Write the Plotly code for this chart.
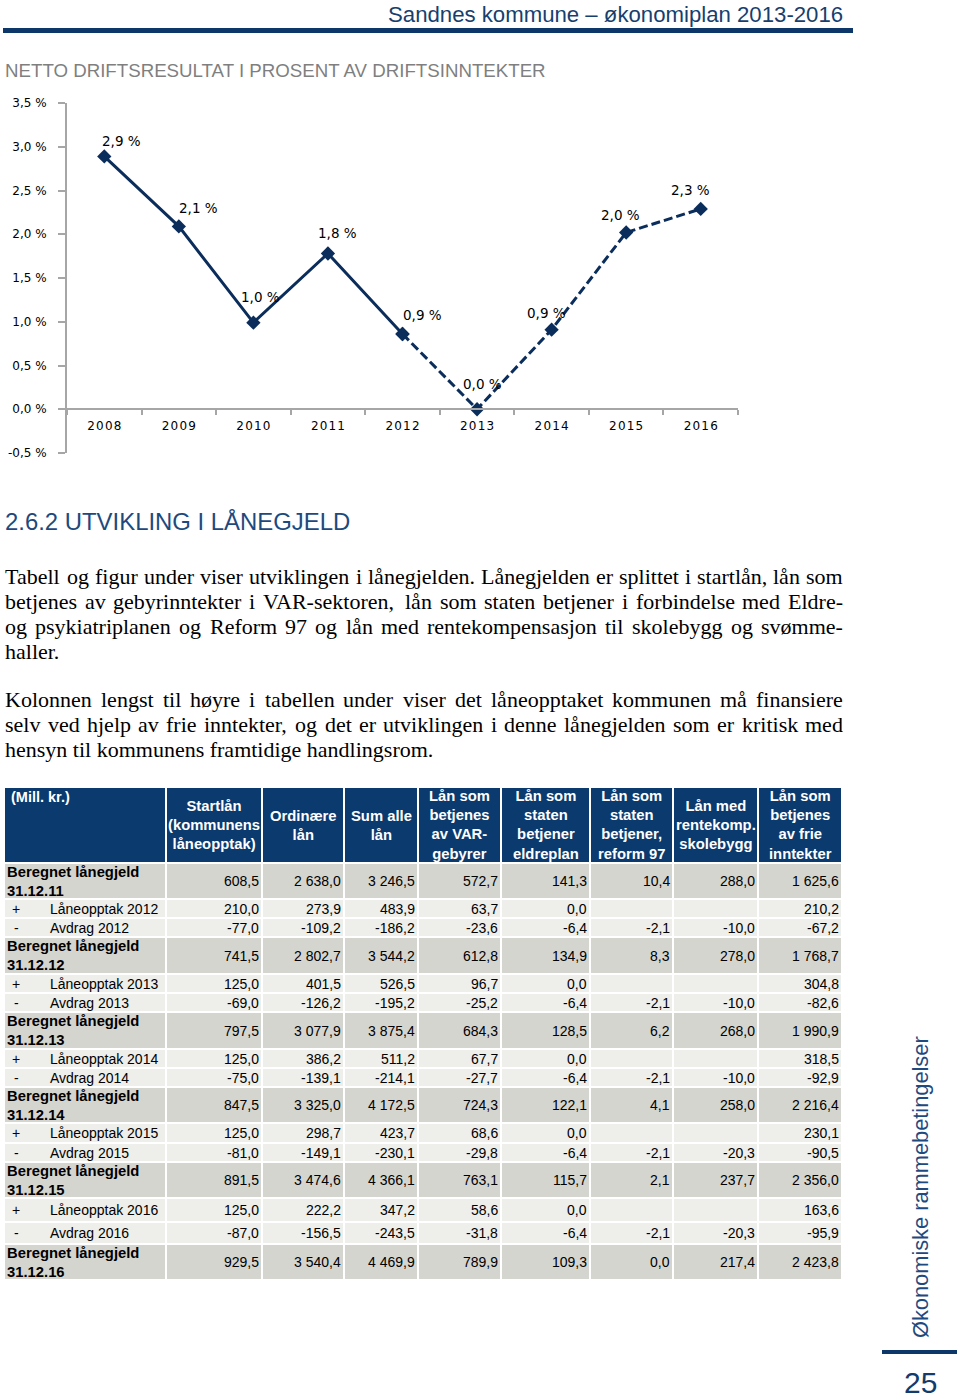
import plotly.graph_objects as go

# ---------------- data ----------------
years = ["2008", "2009", "2010", "2011", "2012", "2013", "2014", "2015", "2016"]
netto_pct = [2.89, 2.09, 0.99, 1.78, 0.86, 0.0, 0.91, 2.02, 2.29]
n_actual = 5          # 2008-2012 regnskap (solid), 2012-2016 plan (dashed)
y_tick_vals = [3.5, 3.0, 2.5, 2.0, 1.5, 1.0, 0.5, 0.0, -0.5]

table_corner = "(Mill. kr.)"
table_columns = [
    "Startlån<br>(kommunens<br>låneopptak)",
    "Ordinære<br>lån",
    "Sum alle<br>lån",
    "Lån som<br>betjenes<br>av VAR-<br>gebyrer",
    "Lån som<br>staten<br>betjener<br>eldreplan",
    "Lån som<br>staten<br>betjener,<br>reform 97",
    "Lån med<br>rentekomp.<br>skolebygg",
    "Lån som<br>betjenes<br>av frie<br>inntekter",
]
row_sign = ["", "+", "-", "", "+", "-", "", "+", "-", "", "+", "-", "", "+", "-", ""]
row_label = [
    "Beregnet lånegjeld<br>31.12.11", "Låneopptak 2012", "Avdrag 2012",
    "Beregnet lånegjeld<br>31.12.12", "Låneopptak 2013", "Avdrag 2013",
    "Beregnet lånegjeld<br>31.12.13", "Låneopptak 2014", "Avdrag 2014",
    "Beregnet lånegjeld<br>31.12.14", "Låneopptak 2015", "Avdrag 2015",
    "Beregnet lånegjeld<br>31.12.15", "Låneopptak 2016", "Avdrag 2016",
    "Beregnet lånegjeld<br>31.12.16",
]
startlan = [608.5, 210.0, -77.0, 741.5, 125.0, -69.0, 797.5, 125.0, -75.0, 847.5, 125.0, -81.0, 891.5, 125.0, -87.0, 929.5]
ordinaere = [2638.0, 273.9, -109.2, 2802.7, 401.5, -126.2, 3077.9, 386.2, -139.1, 3325.0, 298.7, -149.1, 3474.6, 222.2, -156.5, 3540.4]
sum_alle = [3246.5, 483.9, -186.2, 3544.2, 526.5, -195.2, 3875.4, 511.2, -214.1, 4172.5, 423.7, -230.1, 4366.1, 347.2, -243.5, 4469.9]
var_gebyr = [572.7, 63.7, -23.6, 612.8, 96.7, -25.2, 684.3, 67.7, -27.7, 724.3, 68.6, -29.8, 763.1, 58.6, -31.8, 789.9]
eldreplan = [141.3, 0.0, -6.4, 134.9, 0.0, -6.4, 128.5, 0.0, -6.4, 122.1, 0.0, -6.4, 115.7, 0.0, -6.4, 109.3]
reform97 = [10.4, None, -2.1, 8.3, None, -2.1, 6.2, None, -2.1, 4.1, None, -2.1, 2.1, None, -2.1, 0.0]
rentekomp = [288.0, None, -10.0, 278.0, None, -10.0, 268.0, None, -10.0, 258.0, None, -20.3, 237.7, None, -20.3, 217.4]
frie = [1625.6, 210.2, -67.2, 1768.7, 304.8, -82.6, 1990.9, 318.5, -92.9, 2216.4, 230.1, -90.5, 2356.0, 163.6, -95.9, 2423.8]
table_values = [startlan, ordinaere, sum_alle, var_gebyr, eldreplan, reform97, rentekomp, frie]

page_header = "Sandnes kommune – økonomiplan 2013-2016"
chart_title = "NETTO DRIFTSRESULTAT I PROSENT AV DRIFTSINNTEKTER"
section_title = "2.6.2 UTVIKLING I LÅNEGJELD"
paragraph1 = [
    "Tabell og figur under viser utviklingen i lånegjelden. Lånegjelden er splittet i startlån, lån som",
    "betjenes av gebyrinntekter i VAR-sektoren, lån som staten betjener i forbindelse med Eldre-",
    "og psykiatriplanen og Reform 97 og lån med rentekompensasjon til skolebygg og svømme-",
    "haller.",
]
paragraph2 = [
    "Kolonnen lengst til høyre i tabellen under viser det låneopptaket kommunen må finansiere",
    "selv ved hjelp av frie inntekter, og det er utviklingen i denne lånegjelden som er kritisk med",
    "hensyn til kommunens framtidige handlingsrom.",
]
side_text = "Økonomiske rammebetingelser"
page_number = "25"

# ---------------- style / layout ----------------
W, H = 960, 1400
NAVY = "#0c3768"
LINE = "#0b2d5b"
HEAD_FILL = "#0a3a6e"
TITLE_BLUE = "#1d4a7e"
AXIS_GREY = "#a6a6a6"
FILL_SUM = "#d5d5d0"
FILL_LIGHT = "#eeeeea"
SANS = "Liberation Sans, Arial, sans-serif"
SERIF = "Liberation Serif, Times New Roman, serif"
VERD = "DejaVu Sans, Verdana, sans-serif"


def dec(v):
    s = f"{abs(v):,.1f}".replace(",", " ").replace(".", ",")
    return ("-" if v < 0 else "") + s


def pct(v):
    return f"{v:.1f}".replace(".", ",") + " %"


fig = go.Figure()
anns = []
shapes = []


def ann(x, y, text, size, color="black", family=SANS, xanchor="left", yanchor="middle",
        align="left", textangle=0):
    anns.append(dict(x=x, y=y, xref="x2", yref="y2", text=text, showarrow=False,
                     xanchor=xanchor, yanchor=yanchor, align=align, textangle=textangle,
                     borderpad=0, borderwidth=0,
                     font=dict(family=family, size=size, color=color)))


def rect(x0, y0, x1, y1, color):
    shapes.append(dict(type="rect", xref="x2", yref="y2", x0=x0, x1=x1, y0=y0, y1=y1,
                       fillcolor=color, line=dict(width=0), layer="below"))


# ---- line chart (its own axes) ----
cx0, cx1, cy0, cy1 = 67, 738, 103, 453
ymin, ymax = -0.5, 3.5
ydom = [1 - cy1 / H, 1 - cy0 / H]
xaxis_pos = ydom[0] + (0 - ymin) / (ymax - ymin) * (ydom[1] - ydom[0])

fig.add_trace(go.Scatter(x=years[:n_actual], y=netto_pct[:n_actual], mode="lines+markers",
                         line=dict(color=LINE, width=3),
                         marker=dict(symbol="diamond", size=11, color=LINE),
                         showlegend=False, hoverinfo="skip"))
fig.add_trace(go.Scatter(x=years[n_actual - 1:], y=netto_pct[n_actual - 1:], mode="lines+markers",
                         line=dict(color=LINE, width=3, dash="9px,4px"),
                         marker=dict(symbol="diamond", size=11, color=LINE),
                         showlegend=False, hoverinfo="skip"))

label_dx = [17, 20, 7, 10, 20, 5, -5, -6, -10]
label_dy = [15, 18, 26, 21, 19, 25, 17, 18, 19]
for i, (v, dx, dy) in enumerate(zip(netto_pct, label_dx, label_dy)):
    anns.append(dict(x=i, y=v, xref="x", yref="y", text=pct(v), showarrow=False,
                     xanchor="center", yanchor="middle", xshift=dx, yshift=dy,
                     font=dict(family=VERD, size=13.5, color="black")))

# ---- overlay page axes (pixel coordinates) ----
fig.add_trace(go.Scatter(x=[0], y=[0], xaxis="x2", yaxis="y2", mode="markers",
                         marker=dict(opacity=0), showlegend=False, hoverinfo="skip"))

# page header
ann(843, 14, page_header, 22.2, color="#173f6e", xanchor="right")
rect(3, 28, 853, 33, NAVY)
ann(5, 70, chart_title, 18.7, color="#7f7f7f")
ann(5, 521, section_title, 23.9, color=TITLE_BLUE)

# justified paragraphs (Times metrics)
TW = {' ': 250, ',': 250, '.': 250, '-': 333, 'a': 444, 'b': 500, 'c': 444, 'd': 500, 'e': 444,
      'f': 333, 'g': 500, 'h': 500, 'i': 278, 'j': 278, 'k': 500, 'l': 278, 'm': 778, 'n': 500,
      'o': 500, 'p': 500, 'q': 500, 'r': 333, 's': 389, 't': 278, 'u': 500, 'v': 500, 'w': 722,
      'x': 500, 'y': 500, 'z': 444, 'å': 444, 'ø': 500, 'æ': 667, 'A': 722, 'E': 611, 'K': 722,
      'L': 611, 'R': 667, 'T': 611, 'V': 722}
PSIZE = 22


def tw(s):
    return sum(TW.get(c, 500) for c in s) / 1000 * PSIZE


def paragraph(lines, y0, lh, x0=5, x1=843):
    for i, line in enumerate(lines):
        y = y0 + i * lh
        words = line.split(" ")
        if i == len(lines) - 1 or len(words) == 1:
            ann(x0, y, line, PSIZE, family=SERIF)
            continue
        widths = [tw(w) for w in words]
        gap = (x1 - x0 - sum(widths)) / (len(words) - 1)
        x = x0
        for j, w in enumerate(words):
            if j == len(words) - 1:
                ann(x1, y, w, PSIZE, family=SERIF, xanchor="right")
            else:
                ann(x, y, w, PSIZE, family=SERIF)
            x += widths[j] + gap


paragraph(paragraph1, 576, 25)
paragraph(paragraph2, 699, 25.3)

# ---- table ----
col_edges = [5, 166, 262, 344, 418, 501, 590, 673, 758, 842]
head_top, head_bot = 788, 863
row_heights = [36, 19, 19, 37, 19, 19, 37, 19, 19, 36, 20, 19, 36, 24, 22, 36]

for c in range(len(col_edges) - 1):
    rect(col_edges[c] + (0 if c == 0 else 1), head_top, col_edges[c + 1] - 1, head_bot - 1, HEAD_FILL)
ann(11, 797, "<b>" + table_corner + "</b>", 14.5, color="white")
for c, txt in enumerate(table_columns):
    xc = (col_edges[c + 1] + col_edges[c + 2]) / 2
    ann(xc, 825, "<b>" + txt + "</b>", 14.8, color="white", xanchor="center", align="center")

y = head_bot
for r, h in enumerate(row_heights):
    fill = FILL_SUM if row_sign[r] == "" else FILL_LIGHT
    for c in range(len(col_edges) - 1):
        rect(col_edges[c] + (0 if c == 0 else 1), y + 1, col_edges[c + 1] - 1, y + h - 1, fill)
    yc = y + h / 2
    if row_sign[r] == "":
        ann(7, yc, "<b>" + row_label[r] + "</b>", 14.8)
    else:
        ann(16, yc, row_sign[r], 14, xanchor="center")
        ann(50, yc, row_label[r], 14)
    for c, col in enumerate(table_values):
        v = col[r]
        if v is None:
            continue
        ann(col_edges[c + 2] - 3, yc, dec(v), 14, xanchor="right")
    y += h

# side decoration
ann(920, 1187, side_text, 21.8, color="#1f4a80", xanchor="center", textangle=-90)
shapes.append(dict(type="line", xref="x2", yref="y2", x0=882, x1=957, y0=1352, y1=1352,
                   line=dict(color=NAVY, width=4)))
ann(920, 1382, page_number, 30, color="#143b69", xanchor="center")

fig.update_layout(
    width=W, height=H, margin=dict(l=0, r=0, t=0, b=0, pad=0, autoexpand=False),
    paper_bgcolor="white", plot_bgcolor="rgba(0,0,0,0)",
    showlegend=False,
    xaxis=dict(domain=[cx0 / W, cx1 / W], type="category", range=[-0.5, 8.5],
               anchor="free", position=xaxis_pos,
               showline=True, linecolor=AXIS_GREY, linewidth=2,
               ticks="outside", tickson="boundaries", ticklen=5, tickcolor=AXIS_GREY, tickwidth=2,
               ticklabelstandoff=5,
               tickvals=years, ticktext=["\u200a".join(list(y_)) for y_ in years],
               tickfont=dict(family=VERD, size=12, color="black"),
               showgrid=False, zeroline=False, fixedrange=True, automargin=False),
    yaxis=dict(domain=ydom, range=[ymin, ymax], anchor="x",
               showline=True, linecolor=AXIS_GREY, linewidth=2,
               ticks="outside", ticklen=7, tickcolor=AXIS_GREY, tickwidth=2,
               ticklabelstandoff=9,
               tickvals=y_tick_vals, ticktext=[pct(v) for v in y_tick_vals],
               tickfont=dict(family=VERD, size=12, color="black"),
               showgrid=False, zeroline=False, fixedrange=True, automargin=False),
    xaxis2=dict(domain=[0, 1], range=[0, W], anchor="y2", visible=False, fixedrange=True),
    yaxis2=dict(domain=[0, 1], range=[H, 0], anchor="x2", visible=False, fixedrange=True),
    annotations=anns, shapes=shapes,
)

fig.write_html("out.html", config={"displayModeBar": False},
               post_script="document.body.style.margin='0px';")
